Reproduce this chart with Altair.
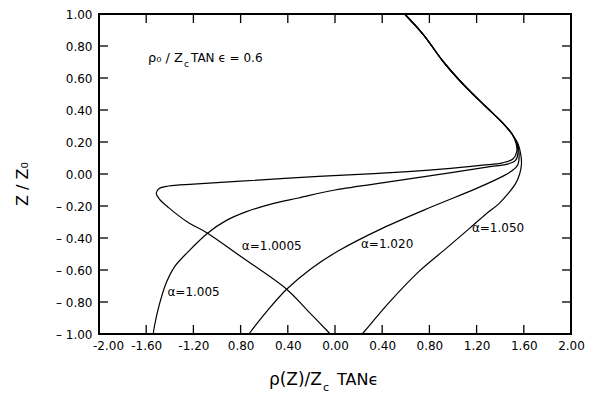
import altair as alt
import pandas as pd
import json

# ---- axis ticks / labels ----
x_ticks = [-2.0, -1.6, -1.2, -0.8, -0.4, 0.0, 0.4, 0.8, 1.2, 1.6, 2.0]
x_tick_labels = ["-2.00", "-1.60", "-1.20", "0.80", "0.40", "0.00", "0.40", "0.80", "1.20", "1.60", "2.00"]
y_ticks = [-1.0, -0.8, -0.6, -0.4, -0.2, 0.0, 0.2, 0.4, 0.6, 0.8, 1.0]
y_tick_labels = ["– 1.00", "– 0.80", "– 0.60", "– 0.40", "– 0.20", "0.00", "0.20", "0.40", "0.60", "0.80", "1.00"]

# ---- curves ----
common_x = [0.59, 0.75, 0.92, 1.10, 1.28, 1.42]
common_y = [1.00, 0.87, 0.70, 0.55, 0.42, 0.32]

a10005_x = [1.50, 1.535, 1.54, 1.51, 1.42, 1.25, 0.90, 0.40, -0.14, -0.80, -1.20, -1.41, -1.49, -1.515,
            -1.49, -1.41, -1.25, -1.08, -0.81, -0.41, -0.23, -0.04]
a10005_y = [0.25, 0.19, 0.14, 0.095, 0.07, 0.055, 0.03, 0.005, -0.015, -0.045, -0.063, -0.075, -0.09, -0.12,
            -0.155, -0.21, -0.30, -0.37, -0.51, -0.72, -0.855, -1.00]

a1005_x = [1.50, 1.54, 1.55, 1.53, 1.45, 1.30, 1.00, 0.50, 0.00, -0.31, -0.55, -0.75, -0.92, -1.08,
           -1.25, -1.36, -1.43, -1.49, -1.53, -1.54]
a1005_y = [0.25, 0.19, 0.13, 0.085, 0.06, 0.045, 0.01, -0.045, -0.10, -0.15, -0.19, -0.235, -0.29, -0.37,
           -0.49, -0.58, -0.68, -0.82, -0.95, -1.00]

a1020_x = [1.50, 1.545, 1.56, 1.55, 1.50, 1.42, 1.20, 0.82, 0.40, 0.03, -0.20, -0.41, -0.58, -0.73]
a1020_y = [0.25, 0.19, 0.13, 0.06, 0.02, -0.015, -0.09, -0.205, -0.34, -0.48, -0.59, -0.72, -0.86, -1.00]

a1050_x = [1.50, 1.55, 1.575, 1.58, 1.565, 1.53, 1.47, 1.39, 1.28, 1.14, 0.95, 0.71, 0.45, 0.30, 0.23]
a1050_y = [0.25, 0.19, 0.12, 0.06, 0.00, -0.06, -0.12, -0.185, -0.25, -0.34, -0.46, -0.61, -0.81, -0.94, -1.00]

curve_names = ["α=1.0005", "α=1.005", "α=1.020", "α=1.050"]
curve_xs = [a10005_x, a1005_x, a1020_x, a1050_x]
curve_ys = [a10005_y, a1005_y, a1020_y, a1050_y]

# label positions (data coordinates)
label_x = [-0.79, -1.42, 0.22, 1.16]
label_y = [-0.45, -0.74, -0.44, -0.34]

rows = []
for name, xs, ys in zip(curve_names, curve_xs, curve_ys):
    full_x = common_x + xs
    full_y = common_y + ys
    for i, (xv, yv) in enumerate(zip(full_x, full_y)):
        rows.append({"curve": name, "i": i, "x": xv, "y": yv})
df = pd.DataFrame(rows)

W, H = 472, 320
FONT = "DejaVu Sans"

xscale = alt.Scale(domain=[-2, 2], nice=False, zero=False)
yscale = alt.Scale(domain=[-1, 1], nice=False, zero=False)

x_expr = json.dumps(x_tick_labels, ensure_ascii=False) + "[round((datum.value + 2) / 0.4)]"
y_expr = json.dumps(y_tick_labels, ensure_ascii=False) + "[round((datum.value + 1) / 0.2)]"

xaxis = alt.Axis(values=x_ticks, labelExpr=x_expr, title=None, ticks=False, domain=False,
                 grid=False, labelFontSize=12, labelFont=FONT, labelColor="black",
                 labelPadding=6, labelFlush=False, labelOverlap=False,
                 labelOffset={"condition": {"test": "datum.value < -1.9", "value": 9}, "value": 0})
yaxis = alt.Axis(values=y_ticks, labelExpr=y_expr, title=None, ticks=False, domain=False,
                 grid=False, labelFontSize=12, labelFont=FONT, labelColor="black",
                 labelPadding=7, labelFlush=False, labelOverlap=False)

lines = alt.Chart(df).mark_line(color="black", strokeWidth=1.2, interpolate="catmull-rom").encode(
    x=alt.X("x:Q", scale=xscale, axis=xaxis),
    y=alt.Y("y:Q", scale=yscale, axis=yaxis),
    detail="curve:N",
    order="i:Q",
)

ldf = pd.DataFrame({"t": curve_names, "x": label_x, "y": label_y})
labels = alt.Chart(ldf).mark_text(align="left", baseline="middle", fontSize=12, font=FONT, color="black").encode(
    x=alt.X("x:Q", scale=xscale, axis=xaxis), y=alt.Y("y:Q", scale=yscale, axis=yaxis), text="t:N")

# inward ticks on all four sides
xt = pd.DataFrame({"x": x_ticks})
yt = pd.DataFrame({"y": y_ticks})
TL = 9
tick_b = alt.Chart(xt).mark_rule(color="black", strokeWidth=1.3).encode(
    x=alt.X("x:Q", scale=xscale, axis=xaxis), y=alt.value(H), y2=alt.value(H - TL))
tick_t = alt.Chart(xt).mark_rule(color="black", strokeWidth=1.3).encode(
    x=alt.X("x:Q", scale=xscale, axis=xaxis), y=alt.value(0), y2=alt.value(TL))
tick_l = alt.Chart(yt).mark_rule(color="black", strokeWidth=1.3).encode(
    y=alt.Y("y:Q", scale=yscale, axis=yaxis), x=alt.value(0), x2=alt.value(TL))
tick_r = alt.Chart(yt).mark_rule(color="black", strokeWidth=1.3).encode(
    y=alt.Y("y:Q", scale=yscale, axis=yaxis), x=alt.value(W), x2=alt.value(W - TL))

one = pd.DataFrame({"a": [0]})

frame = alt.Chart(one).mark_rect(fill=None, stroke="black", strokeWidth=2).encode(
    x=alt.value(0), x2=alt.value(W), y=alt.value(0), y2=alt.value(H))


def txt(text, px, py, size, align="left", angle=0, baseline="alphabetic"):
    kw = dict(align=align, baseline=baseline, fontSize=size, font=FONT, color="black")
    if angle:
        kw["angle"] = angle
    return alt.Chart(one).mark_text(**kw).encode(
        x=alt.value(px), y=alt.value(py), text=alt.value(text))


# parameter annotation  ρ0 / Zc TAN ϵ = 0.6
ann = [
    txt("ρ₀ / Z", 84, 48, 13, align="right"),
    txt("c", 85, 53, 9),
    txt("TAN ϵ = 0.6", 92, 48, 12),
]
# x axis title  ρ(Z)/Zc TANϵ
xtitle = [
    txt("ρ(Z)/Z", 223, 371, 17, align="right"),
    txt("c", 224, 377, 11),
    txt("TANϵ", 238, 371, 16),
]
# y axis title
ytitle = [txt("Z / Z₀", -76, 170, 16, align="center", angle=270, baseline="middle")]

chart = alt.layer(lines, labels, tick_b, tick_t, tick_l, tick_r, frame, *ann, *xtitle, *ytitle).properties(
    width=W, height=H,
    autosize=alt.AutoSizeParams(type="none"),
    padding={"left": 99, "top": 14, "right": 25, "bottom": 61},
).configure_view(stroke="black", strokeWidth=2).configure(background="white")

chart.save("out.html", embed_options={"renderer": "svg", "actions": False})
